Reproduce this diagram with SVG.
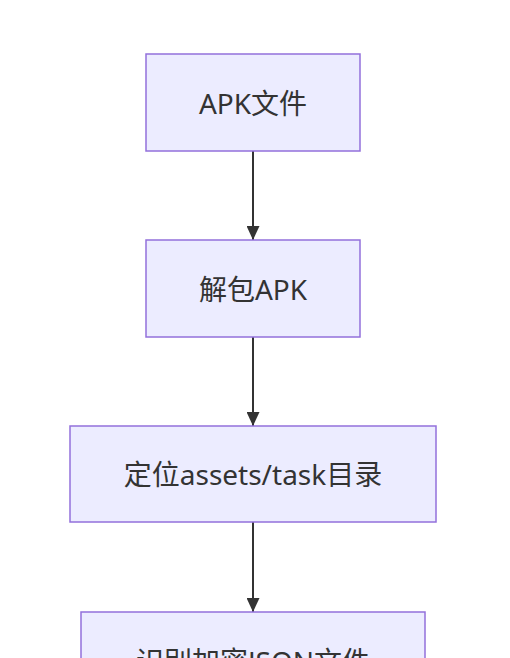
<svg xmlns="http://www.w3.org/2000/svg" width="510" height="658" viewBox="0 0 510 658">
<style>
.node rect{fill:#ECECFF;stroke:#9370DB;stroke-width:1.5}
.node text{font-family:"Noto Sans","Noto Sans CJK SC",sans-serif;font-size:28px;fill:#333;text-anchor:middle;dominant-baseline:central}
.edge{stroke:#333;stroke-width:2;fill:none}
</style>
<defs>
<marker id="arrow" viewBox="0 0 14 13" refX="14" refY="6.5" markerWidth="14" markerHeight="13" markerUnits="userSpaceOnUse" orient="auto">
<path d="M0,0 L14,6.5 L0,13 z" fill="#333"/>
</marker>
</defs>
<rect width="510" height="658" fill="#fff"/>
<g id="connectors">
<line class="edge" x1="253" y1="151" x2="253" y2="240" marker-end="url(#arrow)"/>
<line class="edge" x1="253" y1="337" x2="253" y2="426" marker-end="url(#arrow)"/>
<line class="edge" x1="253" y1="522" x2="253" y2="612" marker-end="url(#arrow)"/>
</g>
<g id="n1" class="node"><rect x="146" y="54" width="214" height="97"/><text x="253" y="102.5">APK文件</text></g>
<g id="n2" class="node"><rect x="146" y="240" width="214" height="97"/><text x="253" y="288.5">解包APK</text></g>
<g id="n3" class="node"><rect x="70" y="426" width="366" height="96"/><text x="253" y="474">定位assets/task目录</text></g>
<g id="n4" class="node"><rect x="81" y="612" width="344" height="97"/><text x="253" y="660.5">识别加密JSON文件</text></g>
</svg>
